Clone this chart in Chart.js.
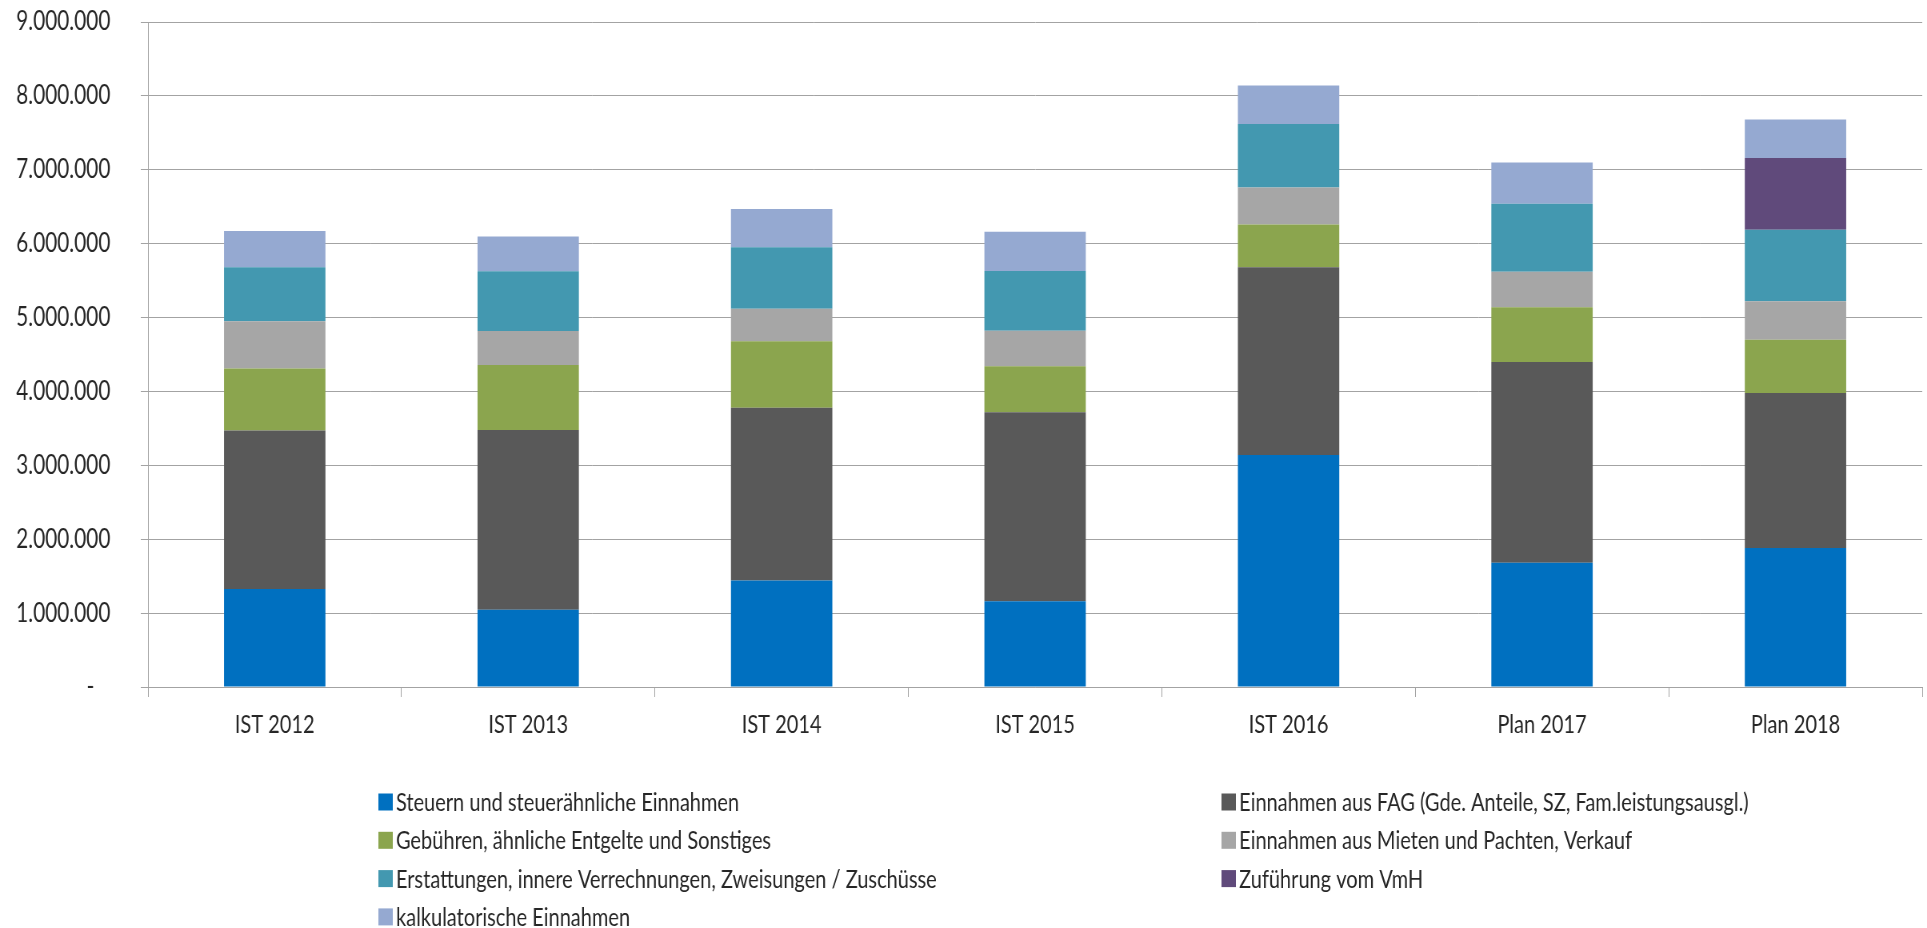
<!DOCTYPE html>
<html>
<head>
<meta charset="utf-8">
<script src="https://cdn.jsdelivr.net/npm/chart.js@4"></script>
<style>
html,body{margin:0;padding:0;background:#fff;overflow:hidden}
</style>
</head>
<body>
<canvas id="c" width="2409" height="928" style="display:block;width:1927px;height:928px"></canvas>
<script>
// ---- data ----
const categories = ['IST 2012','IST 2013','IST 2014','IST 2015','IST 2016','Plan 2017','Plan 2018'];
const steuern        = [1325000,1047000,1440000,1160000,3140000,1680000,1880000];
const fag            = [2145000,2430000,2340000,2560000,2540000,2720000,2100000];
const gebuehren      = [ 840000, 880000, 900000, 620000, 580000, 740000, 720000];
const mieten         = [ 640000, 460000, 440000, 480000, 500000, 480000, 520000];
const erstattungen   = [ 730000, 810000, 830000, 810000, 860000, 920000, 970000];
const zufuehrung     = [      0,      0,      0,      0,      0,      0, 970000];
const kalkulatorisch = [ 490000, 470000, 520000, 530000, 520000, 560000, 520000];
const seriesLabels = [
  'Steuern und steuerähnliche Einnahmen',
  'Einnahmen aus FAG (Gde. Anteile, SZ, Fam.leistungsausgl.)',
  'Gebühren, ähnliche Entgelte und Sonstiges',
  'Einnahmen aus Mieten und Pachten, Verkauf',
  'Erstattungen, innere Verrechnungen, Zweisungen / Zuschüsse',
  'Zuführung vom VmH',
  'kalkulatorische Einnahmen'
];
const seriesColors = ['#0070C0','#595959','#8BA54E','#A6A6A6','#4398B0','#604A7B','#95A9D1'];
const yMin = 0, yMax = 9000000, yStep = 1000000;

// ---- chart ----
const seriesValues = [steuern, fag, gebuehren, mieten, erstattungen, zufuehrung, kalkulatorisch];
const datasets = seriesValues.map((vals, i) => ({
  label: seriesLabels[i],
  data: vals,
  backgroundColor: seriesColors[i],
  borderWidth: 0,
  barPercentage: 0.4,
  categoryPercentage: 1.0
}));

function fmt(v){
  if (v === 0) return '-   ';
  return String(Math.round(v)).replace(/\B(?=(\d{3})+(?!\d))/g, '.');
}

const TEXT = '#262626';
const GRID = '#A3A3A3';

const gridLegend = {
  id: 'gridLegend',
  afterDraw(chart){
    const ctx = chart.ctx;
    ctx.save();
    ctx.font = '25px Lato';
    ctx.textBaseline = 'middle';
    ctx.textAlign = 'left';
    chart.data.datasets.forEach((d, i) => {
      const col = i % 2, row = Math.floor(i / 2);
      const x = col === 0 ? 473 : 1527;
      const y = 802 + row * 38.3;
      ctx.fillStyle = d.backgroundColor;
      ctx.fillRect(x, y - 8.5, 18, 17);
      ctx.fillStyle = TEXT;
      ctx.fillText(d.label, x + 22, y + 1);
    });
    ctx.restore();
  }
};

new Chart(document.getElementById('c'), {
  type: 'bar',
  data: { labels: categories, datasets },
  plugins: [gridLegend],
  options: {
    responsive: false,
    devicePixelRatio: 1,
    animation: false,
    layout: { padding: { left: 0, right: 6, top: 22, bottom: 160 } },
    plugins: { legend: { display: false }, tooltip: { enabled: false }, title: { display: false } },
    scales: {
      x: {
        stacked: true,
        grid: { display: true, drawOnChartArea: false, drawTicks: true, tickLength: 10, color: GRID, lineWidth: 1, offset: true },
        border: { display: true, color: GRID, width: 1 },
        ticks: { color: TEXT, font: { family: 'Lato', size: 25 }, padding: 13, maxRotation: 0, autoSkip: false },
        afterFit(scale){ scale.height = 81; scale.paddingLeft = 0; scale.paddingRight = 0; }
      },
      y: {
        stacked: true,
        min: yMin, max: yMax,
        grid: { color: GRID, lineWidth: 1, drawTicks: true, tickLength: 9 },
        border: { display: true, color: GRID, width: 1 },
        ticks: { stepSize: yStep, color: TEXT, font: { family: 'Lato', size: 26 }, padding: 38, callback: (v) => fmt(v) },
        afterFit(scale){ scale.width = 185; scale.paddingTop = 0; scale.paddingBottom = 0; }
      }
    }
  }
});
</script>
</body>
</html>
